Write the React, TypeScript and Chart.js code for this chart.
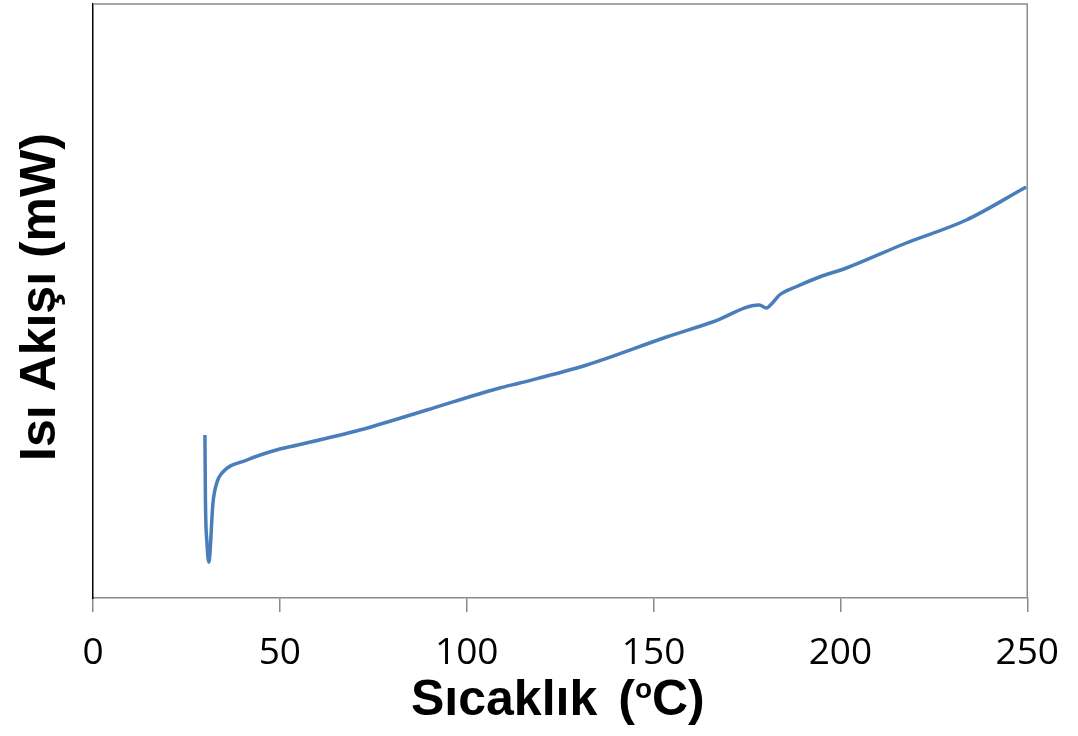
import React, { useEffect, useRef } from "react";
import { Chart, registerables } from "chart.js";

Chart.register(...registerables);

// Temperature (°C)
const temperatures = [
  29.95, 30.08, 30.5, 31.0, 32.1, 33.2, 34.5, 41.2, 50.0, 54.8, 71.4, 89.3, 108.8, 114.2,
  132.1, 153.5, 165.8, 178.3, 180.2, 181.8, 183.7, 188.0, 194.4, 201.6, 217.6,
  233.7, 249.7,
];
// Heat flow (arbitrary units, mW)
const heatFlow = [
  163, 100, 55, 36, 95, 116, 125, 138, 149, 153, 168, 188, 210, 215,
  233, 261, 276, 293, 290, 295, 303, 311, 321, 330, 355,
  378, 411,
];
const xTicks = [0, 50, 100, 150, 200, 250];
const xTitleMain = "Sıcaklık";
const xTitleOpen = "(";
const xTitleSup = "o";
const xTitleEnd = "C)";
const yTitle = "Isı Akışı (mW)";

const titlesPlugin = {
  id: "customTitles",
  afterDraw(chart: any) {
    const { ctx, chartArea } = chart;
    ctx.save();
    // top and right frame
    ctx.strokeStyle = "#8a8a8a";
    ctx.lineWidth = 1.5;
    ctx.beginPath();
    ctx.moveTo(chartArea.left, chartArea.top);
    ctx.lineTo(chartArea.right, chartArea.top);
    ctx.lineTo(chartArea.right, chartArea.bottom);
    ctx.stroke();

    // x title
    const big = 'bold 50px "Liberation Sans", Arial, sans-serif';
    const small = 'bold 28px "Liberation Sans", Arial, sans-serif';
    ctx.fillStyle = "#000";
    ctx.textBaseline = "alphabetic";
    ctx.textAlign = "left";
    const baseY = chartArea.bottom + 117;
    let x = chartArea.left + 318;
    ctx.font = big;
    ctx.fillText(xTitleMain, x, baseY);
    x += ctx.measureText(xTitleMain).width + 21;
    ctx.fillText(xTitleOpen, x, baseY);
    x += ctx.measureText(xTitleOpen).width;
    ctx.font = small;
    ctx.fillText(xTitleSup, x, baseY - 17);
    x += ctx.measureText(xTitleSup).width;
    ctx.font = big;
    ctx.fillText(xTitleEnd, x, baseY);

    // y title
    ctx.translate(55, (chartArea.top + chartArea.bottom) / 2 - 4);
    ctx.rotate(-Math.PI / 2);
    ctx.textAlign = "center";
    ctx.font = big;
    ctx.fillText(yTitle, 0, 0);
    ctx.restore();
  },
};

export default function App() {
  const ref = useRef<HTMLCanvasElement | null>(null);
  useEffect(() => {
    if (!ref.current) return;
    const chart = new Chart(ref.current, {
      type: "line",
      data: {
        datasets: [
          {
            data: temperatures.map((t, i) => ({ x: t, y: heatFlow[i] })),
            borderColor: "#4a7ebb",
            borderWidth: 3.5,
            pointRadius: 0,
            cubicInterpolationMode: "monotone",
            fill: false,
          },
        ],
      },
      options: {
        animation: false,
        responsive: false,
        devicePixelRatio: 1,
        layout: { padding: { top: 4, right: 49, left: 0, bottom: 0 } },
        plugins: { legend: { display: false }, tooltip: { enabled: false } },
        scales: {
          x: {
            type: "linear",
            min: 0,
            max: 250,
            afterBuildTicks: (s: any) => {
              s.ticks = xTicks.map((v) => ({ value: v }));
            },
            afterFit: (s: any) => {
              s.height = 138;
            },
            ticks: {
              color: "#000",
              padding: 19,
              font: { family: '"Open Sans", sans-serif', size: 37 },
              maxRotation: 0,
            },
            grid: { drawOnChartArea: false, tickLength: 14, color: "#8a8a8a", lineWidth: 1.5 },
            border: { color: "#8a8a8a", width: 1.5 },
          },
          y: {
            min: 0,
            max: 594,
            ticks: { display: false },
            grid: { display: false },
            border: { color: "#000", width: 1.5 },
            afterFit: (s: any) => {
              s.width = 93;
            },
          },
        },
      },
      plugins: [titlesPlugin],
    } as any);
    return () => chart.destroy();
  }, []);
  return (
    <div style={{ position: "absolute", left: 0, top: 0, width: 1078, height: 736, background: "#fff" }}>
      <canvas ref={ref} width={1078} height={736} />
    </div>
  );
}
